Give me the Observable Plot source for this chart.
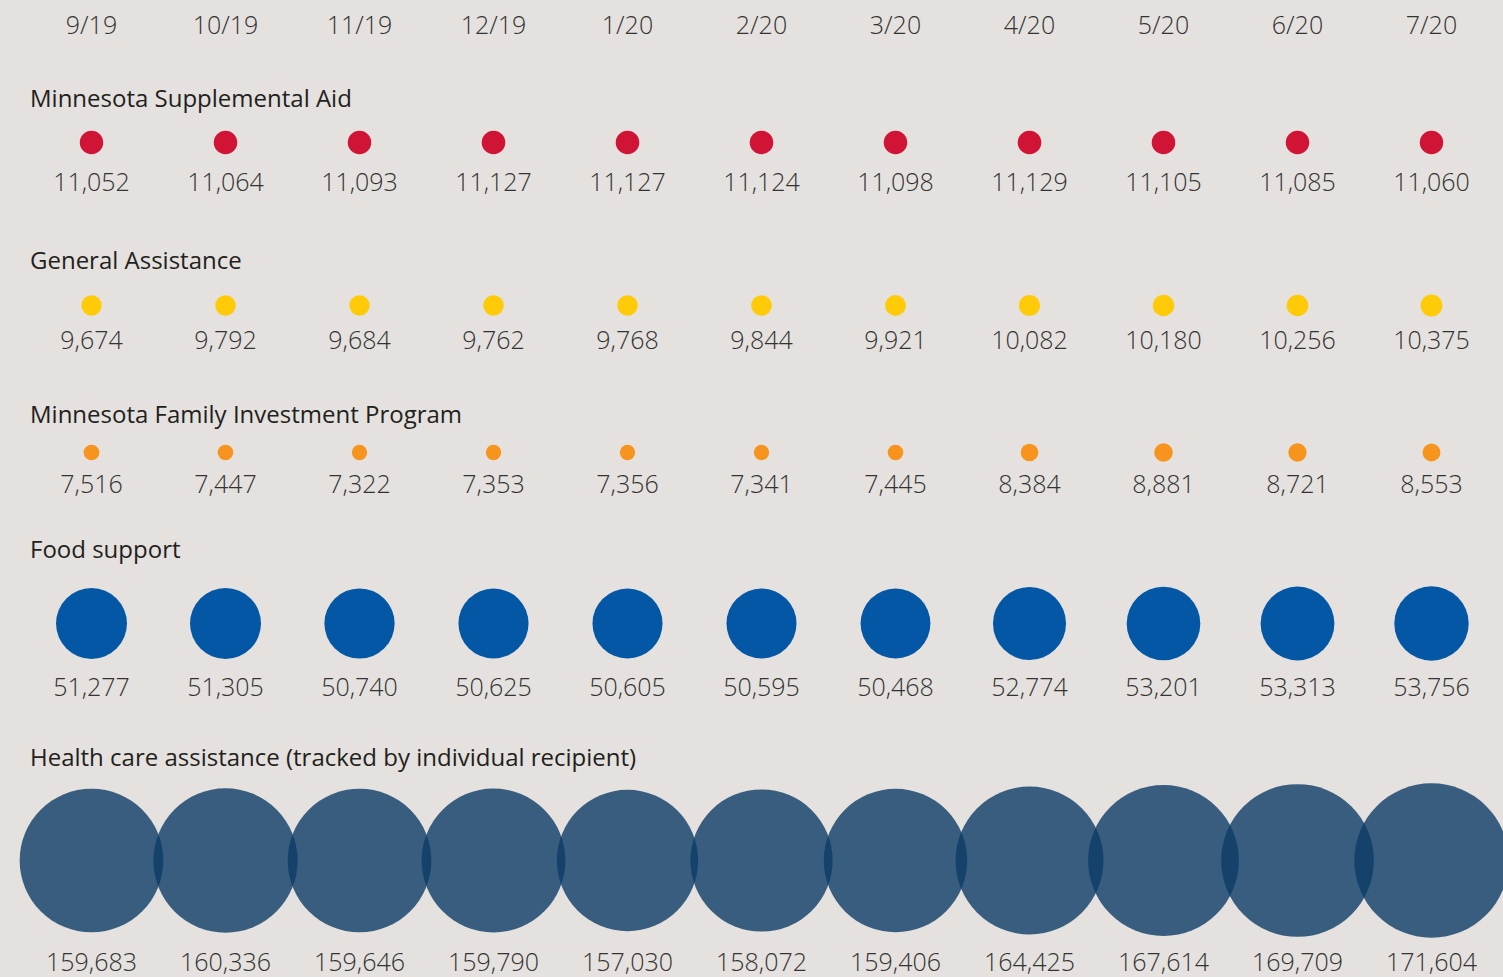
<!DOCTYPE html>
<html>
<head>
<meta charset="utf-8">
<script src="https://cdn.jsdelivr.net/npm/d3@7"></script>
<script src="https://cdn.jsdelivr.net/npm/@observablehq/plot@0.6"></script>
<style>
  html, body { margin: 0; padding: 0; background: #e4e1de; overflow: hidden; }
  #chart { position: relative; width: 1503px; height: 977px; font-family: "Open Sans", sans-serif; }
  .title { position: absolute; left: 30px; font-size: 24px; line-height: 30px; color: #231f20; white-space: nowrap; }
  .layer { position: absolute; left: 0; }
  .layer svg { overflow: visible; }
</style>
</head>
<body>
<div id="chart"></div>
<script>
// ---- data ----
const months = ["9/19", "10/19", "11/19", "12/19", "1/20", "2/20", "3/20", "4/20", "5/20", "6/20", "7/20"];
const programs = [
  "Minnesota Supplemental Aid",
  "General Assistance",
  "Minnesota Family Investment Program",
  "Food support",
  "Health care assistance (tracked by individual recipient)"
];
const msaValues = [11052, 11064, 11093, 11127, 11127, 11124, 11098, 11129, 11105, 11085, 11060];
const gaValues = [9674, 9792, 9684, 9762, 9768, 9844, 9921, 10082, 10180, 10256, 10375];
const mfipValues = [7516, 7447, 7322, 7353, 7356, 7341, 7445, 8384, 8881, 8721, 8553];
const foodValues = [51277, 51305, 50740, 50625, 50605, 50595, 50468, 52774, 53201, 53313, 53756];
const healthValues = [159683, 160336, 159646, 159790, 157030, 158072, 159406, 164425, 167614, 169709, 171604];
const seriesValues = [msaValues, gaValues, mfipValues, foodValues, healthValues];

// ---- styles / layout ----
const W = 1503;
const xRange = [89, 1432];
const rowStyle = [
  {color: "#cf1436", opacity: 1, rMax: 11.8, titleY: 98, circleY: 142, labelY: 182},
  {color: "#ffcb08", opacity: 1, rMax: 10.9, titleY: 260, circleY: 305, labelY: 340},
  {color: "#f7941e", opacity: 1, rMax: 9.3, titleY: 414, circleY: 452, labelY: 484},
  {color: "#0357a5", opacity: 1, rMax: 37.2, titleY: 549, circleY: 623, labelY: 687},
  {color: "#0d3c67", opacity: 0.8, rMax: 77.2, titleY: 757, circleY: 860, labelY: 962}
];
const fmt = d3.format(",");
const chart = document.getElementById("chart");
const baseStyle = {fontFamily: "Open Sans, sans-serif", background: "transparent", overflow: "visible"};
const xScale = {type: "point", domain: months, range: xRange, padding: 0, axis: null};

// header with months
{
  const H = 50;
  const p = Plot.plot({
    width: W, height: H, margin: 0,
    style: baseStyle,
    x: xScale,
    marks: [
      Plot.text(months, {x: d => d, text: d => d, fontSize: 25, fontWeight: 300, fill: "#333"})
    ]
  });
  const div = document.createElement("div");
  div.className = "layer";
  div.style.top = "0px";
  div.appendChild(p);
  chart.appendChild(div);
}

programs.forEach((name, i) => {
  const s = rowStyle[i];
  const vals = seriesValues[i];
  const data = months.map((m, j) => ({month: m, value: vals[j]}));
  const off = s.labelY - s.circleY;
  const H = 2 * Math.max(off + 20, s.rMax + 4);
  const p = Plot.plot({
    width: W, height: H, margin: 0,
    style: baseStyle,
    x: xScale,
    r: {type: "linear", domain: [0, d3.max(vals)], range: [0, s.rMax]},
    marks: [
      Plot.dot(data, {x: "month", r: "value", fill: s.color, fillOpacity: s.opacity, stroke: "none"}),
      Plot.text(data, {x: "month", text: d => fmt(d.value), dy: off, fontSize: 25, fontWeight: 300, fill: "#333"})
    ]
  });
  const div = document.createElement("div");
  div.className = "layer";
  div.style.top = (s.circleY - H / 2) + "px";
  div.appendChild(p);
  chart.appendChild(div);

  const t = document.createElement("div");
  t.className = "title";
  t.style.top = (s.titleY - 15) + "px";
  t.textContent = name;
  chart.appendChild(t);
});
</script>
</body>
</html>
